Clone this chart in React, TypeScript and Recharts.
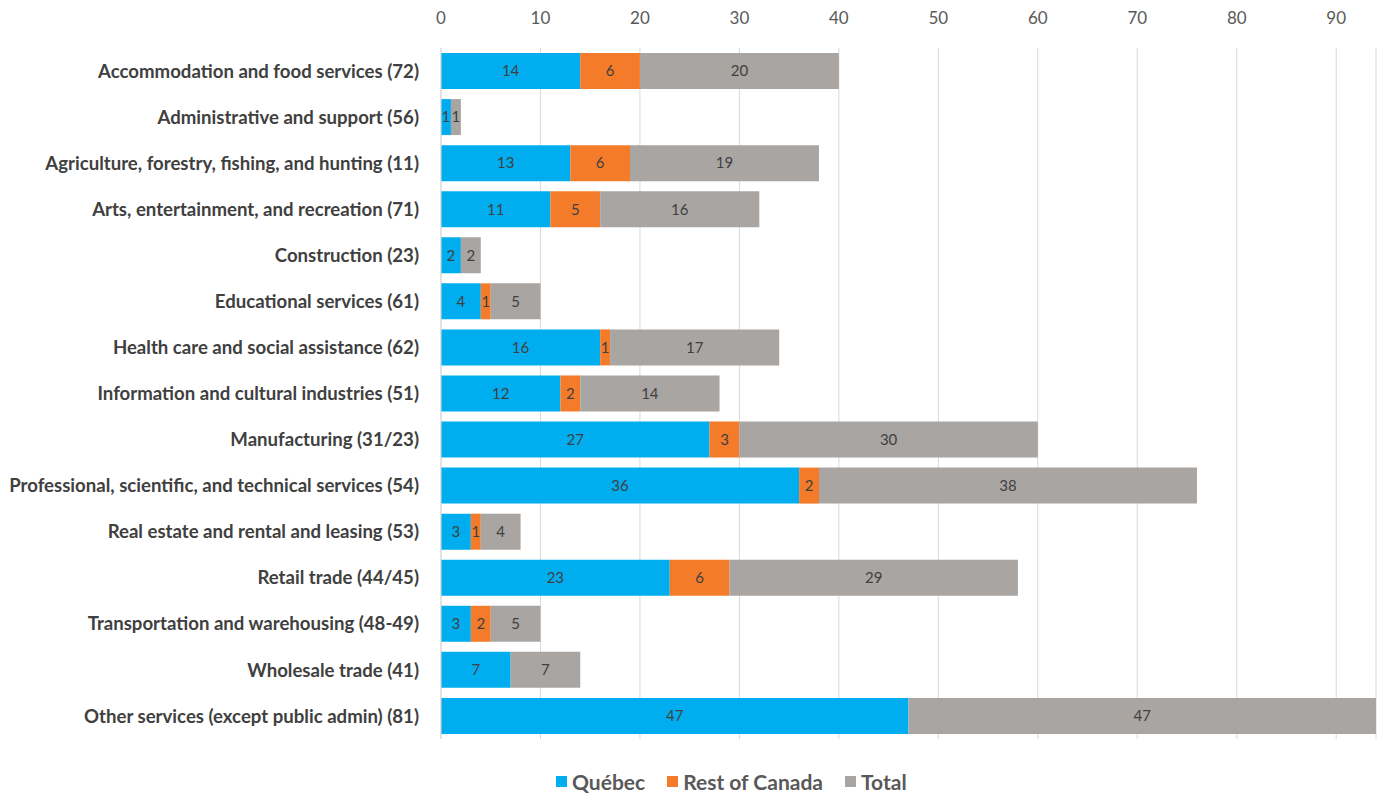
import React from "react";
import {
	Bar,
	BarChart,
	CartesianGrid,
	LabelList,
	Legend,
	XAxis,
	YAxis,
} from "recharts";

const categories = [
	"Accommodation and food services (72)",
	"Administrative and support (56)",
	"Agriculture, forestry, fishing, and hunting (11)",
	"Arts, entertainment, and recreation (71)",
	"Construction (23)",
	"Educational services (61)",
	"Health care and social assistance (62)",
	"Information and cultural industries (51)",
	"Manufacturing (31/23)",
	"Professional, scientific, and technical services (54)",
	"Real estate and rental and leasing (53)",
	"Retail trade (44/45)",
	"Transportation and warehousing (48-49)",
	"Wholesale trade (41)",
	"Other services (except public admin) (81)",
];

const quebec = [14, 1, 13, 11, 2, 4, 16, 12, 27, 36, 3, 23, 3, 7, 47];
const restOfCanada = [6, 0, 6, 5, 0, 1, 1, 2, 3, 2, 1, 6, 2, 0, 0];
const total = [20, 1, 19, 16, 2, 5, 17, 14, 30, 38, 4, 29, 5, 7, 47];

const xTicks = [0, 10, 20, 30, 40, 50, 60, 70, 80, 90];

const data = categories.map((name, i) => ({
	name,
	quebec: quebec[i],
	rest: restOfCanada[i],
	total: total[i],
}));

const series = [
	{ key: "quebec", label: "Québec", color: "#00AEEF" },
	{ key: "rest", label: "Rest of Canada", color: "#F47B2A" },
	{ key: "total", label: "Total", color: "#A9A5A2" },
];

const labelFont = "Lato, sans-serif";

const hideZero = (v: any) => (v ? v : "");

function LegendContent() {
	return (
		<div
			style={{
				display: "flex",
				justifyContent: "flex-start",
				paddingLeft: 556,
				paddingTop: 30,
				fontFamily: labelFont,
				fontWeight: 700,
				fontSize: 21,
				color: "#595959",
			}}
		>
			{series.map((s) => (
				<div
					key={s.key}
					style={{ display: "flex", alignItems: "center", marginRight: 22 }}
				>
					<span
						style={{
							display: "inline-block",
							width: 11,
							height: 11,
							background: s.color,
							marginRight: 5,
						}}
					/>
					{s.label}
				</div>
			))}
		</div>
	);
}

export default function App() {
	return (
		<div style={{ position: "absolute", left: 0, top: 0 }}>
			<BarChart
				width={1379}
				height={794}
				data={data}
				layout="vertical"
				margin={{ top: 0, right: 3, left: 0, bottom: 0 }}
				barSize={36}
			>
				<CartesianGrid horizontal={false} stroke="#d9d9d9" />
				<XAxis
					type="number"
					orientation="top"
					domain={[0, 94]}
					ticks={xTicks}
					axisLine={false}
					tickLine={false}
					height={48}
					tickMargin={18}
					tick={{ fontSize: 17, fill: "#595959", fontFamily: labelFont }}
				/>
				<YAxis
					type="category"
					dataKey="name"
					width={441}
					axisLine={{ stroke: "#d9d9d9" }}
					tickLine={false}
					tickMargin={16}
					interval={0}
					tick={{
						fontSize: 18.6,
						fill: "#404040",
						fontWeight: 700,
						fontFamily: labelFont,
					}}
				/>
				<Legend verticalAlign="bottom" content={<LegendContent />} />
				{series.map((s) => (
					<Bar
						key={s.key}
						dataKey={s.key}
						name={s.label}
						stackId="a"
						fill={s.color}
						isAnimationActive={false}
					>
						<LabelList
							dataKey={s.key}
							position="center"
							formatter={hideZero}
							style={{ fontSize: 15, fill: "#404040", fontFamily: labelFont }}
						/>
					</Bar>
				))}
			</BarChart>
		</div>
	);
}
